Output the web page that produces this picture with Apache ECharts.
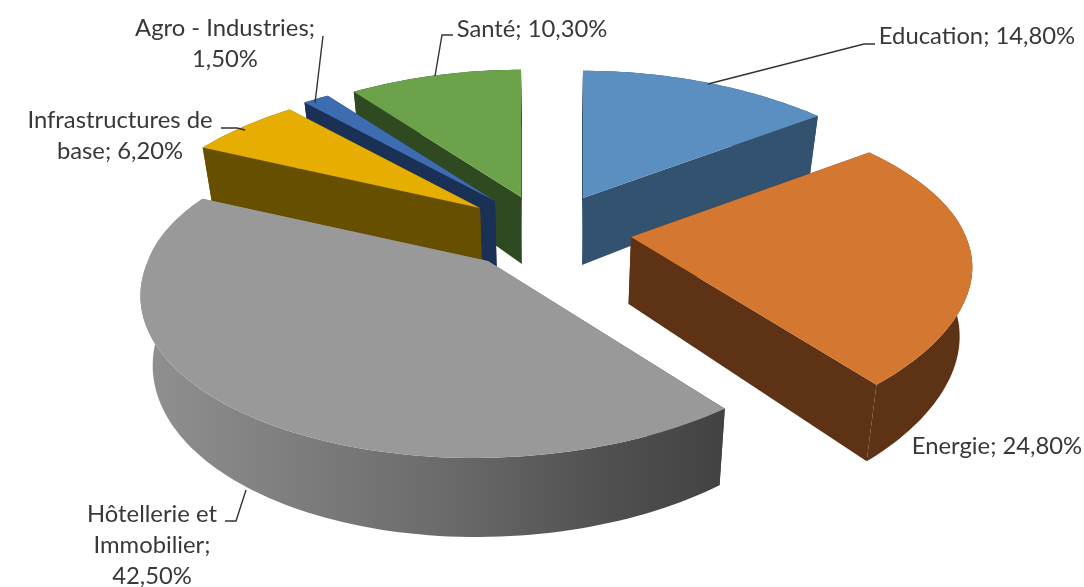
<!DOCTYPE html>
<html>
<head>
<meta charset="utf-8">
<title>Répartition par secteur</title>
<script src="https://cdn.jsdelivr.net/npm/echarts@6/dist/echarts.min.js"></script>
<style>html,body{margin:0;padding:0;background:#fff}#chart{width:1084px;height:587px}</style>
</head>
<body>
<div id="chart"></div>
<script>
// Sector shares, clockwise from twelve o'clock
const categories = ['Education', 'Energie', 'Hôtellerie et\nImmobilier', 'Infrastructures de\nbase', 'Agro - Industries', 'Santé'];
const values = [14.8, 24.8, 42.5, 6.2, 1.5, 10.3];
const labelSeparators = ['; ', '; ', ';\n', '; ', ';\n', '; '];

const topColors = ['#5b8fc1', '#d47731', '#999999', '#e5ae00', '#3d6cb0', '#6ba24a'];
const wallColors = ['#33526f', '#5e3214', null, '#665000', '#1b3055', '#2f4a20'];
const grayWall = {
  type: 'linear', x: 145, y: 0, x2: 725, y2: 0, global: true,
  colorStops: [{ offset: 0, color: '#909090' }, { offset: 0.5, color: '#6c6c6c' }, { offset: 0.8, color: '#505050' }, { offset: 1, color: '#424242' }]
};

// Far slices are painted first so nearer ones overlap them
const paintOrder = [5, 4, 3, 0, 2, 1];

// Projection of the tilted disc
const radiusX = 340, radiusY = 154.6, wallDepth = 67;
const vanishX = 550, wallShrink = 0.97;
const pieCenter = [545, 235];
// Exploded position of every slice relative to the pie centre
const explode = [[38, -37], [86, 2], [-57, 26], [-65, -27], [-50, -34], [-24, -38]];
// Per-slice shaping: horizontal radius, sideways lean of the near rim, flare of the far rim
const widthScale = [1, 0.985, 1, 1, 1, 1];
const frontLean = [0, -72, 28, 0, 0, 0];
const backFlare = [0, 0.05, 0.07, 0, 0, 0];

// Text placement and leader lines
const labelSpots = [[977, 36], [997, 446], [152, 545], [120, 136], [225, 44], [532, 29]];
const leaders = [
  [[875, 44], [864, 44], [708, 84]],
  null,
  [[225, 521], [236, 521], [246, 490]],
  [[221, 128], [237, 128], [245, 130]],
  [[323, 36], [315, 103]],
  [[453, 35], [442, 35], [435, 76]]
];

const total = values.reduce((a, b) => a + b, 0);
const angles = [];
values.reduce((acc, v, i) => {
  const next = acc + v / total * Math.PI * 2;
  angles[i] = [acc, next];
  return next;
}, 0);

function project(i, angle, r) {
  const u = Math.sin(angle) * r, v = -Math.cos(angle) * r;
  const ax = pieCenter[0] + explode[i][0], ay = pieCenter[1] + explode[i][1];
  const widen = v < 0 ? 1 + 0.23 * v : 1 + 0.2 * v;
  const lean = v > 0 ? frontLean[i] * v * v * (1 - u) / 2 : 0;
  const flare = 1 + backFlare[i] * Math.max(0, -v);
  const x = ax + u * radiusX * widthScale[i] * widen * flare - lean;
  const y = ay + v * radiusY / (1 - 0.215 * v) * flare;
  return { x, y, depth: wallDepth * (1 + 0.18 * v) };
}
function lower(p) {
  return [vanishX + (p.x - vanishX) * wallShrink, p.y + p.depth];
}

function renderSlice(params, api) {
  const i = api.value(0);
  const [a0, a1] = angles[i];
  const steps = Math.max(6, Math.ceil((a1 - a0) * 40));
  const rim = [];
  for (let k = 0; k <= steps; k++) rim.push(project(i, a0 + (a1 - a0) * k / steps, 1));
  const apex = project(i, a0, 0);
  const wallFill = wallColors[i] || grayWall;
  const upper = p => [p.x, p.y];
  const wall = pts => ({ type: 'polygon', shape: { points: pts }, style: { fill: wallFill }, silent: true });
  const first = rim[0], last = rim[rim.length - 1];
  const children = [
    wall([upper(apex), upper(first), lower(first), lower(apex)]),
    wall([upper(apex), upper(last), lower(last), lower(apex)]),
    wall(rim.map(upper).concat(rim.slice().reverse().map(lower))),
    { type: 'polygon', shape: { points: [upper(apex)].concat(rim.map(upper)) }, style: { fill: topColors[i] }, silent: true }
  ];
  return { type: 'group', children };
}

function labelText(i) {
  return categories[i] + labelSeparators[i] + values[i].toFixed(2).replace('.', ',') + '%';
}

function renderLabel(params, api) {
  const i = api.value(0);
  const children = [];
  if (leaders[i]) {
    children.push({ type: 'polyline', shape: { points: leaders[i] }, style: { stroke: '#333', lineWidth: 1.4, fill: 'none' }, silent: true });
  }
  children.push({
    type: 'text', silent: true,
    style: {
      x: labelSpots[i][0], y: labelSpots[i][1], text: labelText(i),
      fontFamily: 'Lato', fontSize: 23.8, lineHeight: 31,
      fill: '#383838', align: 'center', verticalAlign: 'middle'
    }
  });
  return { type: 'group', children };
}

const chart = echarts.init(document.getElementById('chart'));
chart.setOption({
  animation: false,
  backgroundColor: '#ffffff',
  series: [
    {
      type: 'custom', coordinateSystem: 'none', silent: true, renderItem: renderSlice,
      data: paintOrder.map(i => ({ name: categories[i], value: [i, values[i]] }))
    },
    {
      type: 'custom', coordinateSystem: 'none', silent: true, renderItem: renderLabel, z: 5,
      data: categories.map((c, i) => ({ name: c, value: [i, values[i]] }))
    }
  ]
});
</script>
</body>
</html>
